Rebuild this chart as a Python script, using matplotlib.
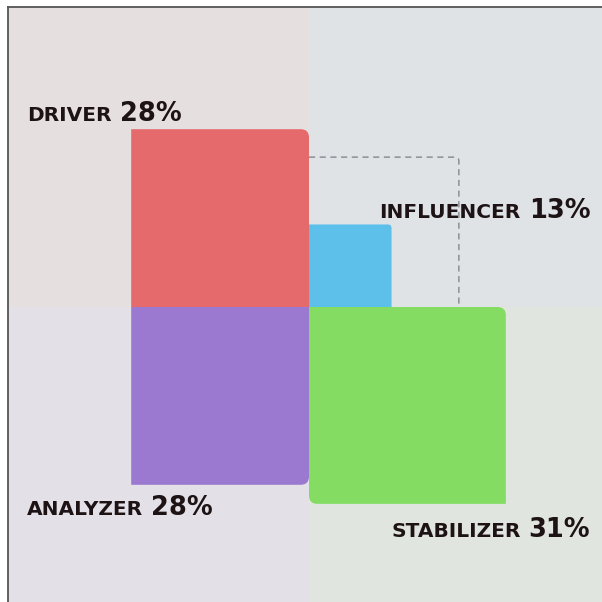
import matplotlib
matplotlib.use("Agg")
import matplotlib.pyplot as plt
from matplotlib.path import Path
from matplotlib.patches import PathPatch, Rectangle

# Data

styles = ["DRIVER", "INFLUENCER", "ANALYZER", "STABILIZER"]
shares = [28, 13, 28, 31]
reference_share = 23.6   # dashed outline behind the influencer square

# Layout / style

directions = {"DRIVER": (-1, 1), "INFLUENCER": (1, 1),
              "ANALYZER": (-1, -1), "STABILIZER": (1, -1)}
colors = {"DRIVER": "#e56a6b", "INFLUENCER": "#5dc0ea",
          "ANALYZER": "#9b79d0", "STABILIZER": "#84dd62"}
rounded = {"DRIVER": {"tr": 1.3}, "INFLUENCER": {"tr": 0.6},
           "ANALYZER": {"br": 1.3}, "STABILIZER": {"tr": 1.3, "bl": 1.3}}
quadrant_bg = {(-1, 1): "#e5dfdf", (1, 1): "#dfe3e6",
               (-1, -1): "#e3e1e7", (1, -1): "#e1e5e0"}
# label anchor (x, baseline y, alignment)
label_pos = {"DRIVER": (-44.4, 29.3, "left"),
             "INFLUENCER": (44.3, 14.0, "right"),
             "ANALYZER": (-44.4, -32.8, "left"),
             "STABILIZER": (44.3, -36.2, "right")}
text_color = "#1d1315"
font = "DejaVu Sans"

px = 6.35  # pixels per unit
W = H = 602
cx, cy = 309, 307
left, top = 8, 7


def rounded_rect(x0, y0, x1, y1, r):
    tl, tr, br, bl = (r.get(k, 0) for k in ("tl", "tr", "br", "bl"))
    verts = [(x0 + bl, y0), (x1 - br, y0), (x1, y0), (x1, y0 + br),
             (x1, y1 - tr), (x1, y1), (x1 - tr, y1),
             (x0 + tl, y1), (x0, y1), (x0, y1 - tl),
             (x0, y0 + bl), (x0, y0), (x0 + bl, y0), (x0 + bl, y0)]
    codes = [Path.MOVETO, Path.LINETO, Path.CURVE3, Path.CURVE3,
             Path.LINETO, Path.CURVE3, Path.CURVE3,
             Path.LINETO, Path.CURVE3, Path.CURVE3,
             Path.LINETO, Path.CURVE3, Path.CURVE3, Path.CLOSEPOLY]
    return Path(verts, codes)


fig = plt.figure(figsize=(W / 100, H / 100), dpi=100)
fig.patch.set_facecolor("white")
ax = fig.add_axes([left / W, 0, (W - left) / W, (H - top) / H])
ax.set_xlim((left - cx) / px, (W - cx) / px)
ax.set_ylim(-(H - cy) / px, (cy - top) / px)
ax.set_xticks([])
ax.set_yticks([])
for side in ("right", "bottom"):
    ax.spines[side].set_visible(False)
for side in ("left", "top"):
    ax.spines[side].set_color("#555555")
    ax.spines[side].set_linewidth(1.3)

# Quadrant backgrounds
for (sx, sy), c in quadrant_bg.items():
    ax.add_patch(Rectangle((0, 0), sx * 60, sy * 60, facecolor=c,
                           edgecolor="none", zorder=0))

# Dashed reference outline (top and right edges only)
r = 0.6
d = reference_share
ref = Path([(0, d), (d - r, d), (d, d), (d, d - r), (d, 0)],
           [Path.MOVETO, Path.LINETO, Path.CURVE3, Path.CURVE3, Path.LINETO])
ax.add_patch(PathPatch(ref, fill=False, edgecolor="#8c8f93", lw=1.1,
                       linestyle=(0, (4, 3)), zorder=1))

# Squares
for name, value in zip(styles, shares):
    sx, sy = directions[name]
    x0, x1 = sorted([0, sx * value])
    y0, y1 = sorted([0, sy * value])
    ax.add_patch(PathPatch(rounded_rect(x0, y0, x1, y1, rounded[name]),
                           facecolor=colors[name], edgecolor="none", zorder=2))

# Labels
name_texts = {}
pct_texts = {}
for name, value in zip(styles, shares):
    x, y, ha = label_pos[name]
    name_texts[name] = ax.text(x, y, name, ha=ha, va="baseline",
                               fontsize=14.5, fontweight="bold",
                               family=font, color=text_color, zorder=3)
    pct_texts[name] = ax.text(x, y, f"{value}%", ha=ha, va="baseline",
                              fontsize=18.5, fontweight="bold",
                              family=font, color=text_color, zorder=3)

fig.canvas.draw()
gap = 8 / px
for name in styles:
    x, y, ha = label_pos[name]
    if ha == "left":
        bb = name_texts[name].get_window_extent()
        w = bb.width / px
        pct_texts[name].set_x(x + w + gap)
    else:
        bb = pct_texts[name].get_window_extent()
        w = bb.width / px
        name_texts[name].set_x(x - w - gap)

fig.savefig("out.png", dpi=100)
